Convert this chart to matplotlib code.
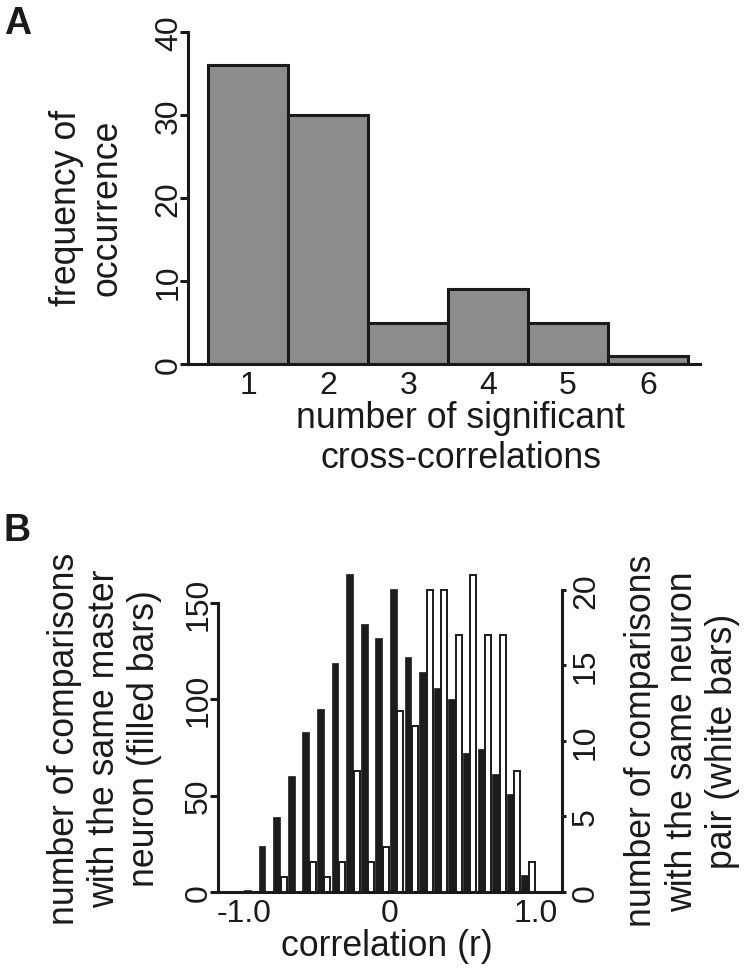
import matplotlib
matplotlib.use('Agg')
import matplotlib.pyplot as plt
from matplotlib.ticker import FixedLocator

plt.rcParams['font.family'] = ['Liberation Sans', 'DejaVu Sans']
plt.rcParams['text.color'] = '#1a1a1a'
plt.rcParams['axes.labelcolor'] = '#1a1a1a'
plt.rcParams['xtick.color'] = '#1a1a1a'
plt.rcParams['ytick.color'] = '#1a1a1a'

# ---- Panel A data ----
n_significant = [1, 2, 3, 4, 5, 6]
frequency = [36, 30, 5, 9, 5, 1]
yticks_A = [0, 10, 20, 30, 40]

# ---- Panel B data ----
bin_left = [-1.0, -0.9, -0.8, -0.7, -0.6, -0.5, -0.4, -0.3, -0.2, -0.1,
            0.0, 0.1, 0.2, 0.3, 0.4, 0.5, 0.6, 0.7, 0.8, 0.9]
filled_counts = [1, 24, 39, 60, 83, 95, 119, 165, 139, 132,
                 157, 122, 114, 106, 100, 72, 74, 61, 51, 9]
white_counts = [0, 0, 1, 0, 2, 1, 2, 8, 2, 3,
                12, 11, 20, 20, 17, 21, 17, 17, 8, 2]
xticks_B = [-1.0, 0.0, 1.0]
xticklabels_B = ['-1.0', '0', '1.0']
yticks_B_left = [0, 50, 100, 150]
yticks_B_right = [0, 5, 10, 15, 20]

TICK = 23
LAB = 25.7
DARK = '#1a1a1a'
SPW = 2.2

fig = plt.figure(figsize=(7.48, 9.70), dpi=100)

# ================= Panel A =================
axA = fig.add_axes([188/748, 1 - 365/970, 512/748, 332/970])
axA.bar(n_significant, frequency, width=1.0, color='#8c8c8c',
        edgecolor=DARK, linewidth=2.2)
axA.set_xlim(0.246, 6.65)
axA.set_ylim(0, 40)
for s in ['top', 'right']:
    axA.spines[s].set_visible(False)
for s in ['left', 'bottom']:
    axA.spines[s].set_linewidth(SPW)
    axA.spines[s].set_color(DARK)
axA.set_xticks(n_significant)
axA.set_yticks(yticks_A)
axA.tick_params(axis='x', length=0, labelsize=TICK, pad=4)
axA.tick_params(axis='y', length=5.5, width=SPW, direction='out',
                labelsize=TICK, pad=-2.5, labelrotation=90)
for lb in axA.get_yticklabels():
    lb.set_va('center')
axA.set_xlabel('number of significant\ncross-correlations', fontsize=LAB)
axA.xaxis.set_label_coords(0.533, -0.107)
axA.set_ylabel('frequency of\noccurrence', fontsize=LAB, va='center', ha='center')
axA.yaxis.set_label_coords(-0.197, 0.473)

# ================= Panel B =================
axB = fig.add_axes([218/748, 1 - 893/970, 344/748, 323/970])
axB2 = axB.twinx()
left_white = [x + 0.051 for x in bin_left]
axB.bar(bin_left, filled_counts, width=0.046, align='edge',
        color='#1c1c1c', edgecolor='#1c1c1c', linewidth=0.5)
axB2.bar(left_white, white_counts, width=0.041, align='edge',
         color='white', edgecolor=DARK, linewidth=1.4)

axB.set_xlim(-1.178, 1.178)
axB.set_ylim(0, 167.6)
axB2.set_ylim(0, 21.39)
for ax in (axB, axB2):
    ax.spines['top'].set_visible(False)
    for s in ['left', 'right', 'bottom']:
        ax.spines[s].set_linewidth(SPW)
        ax.spines[s].set_color(DARK)
axB.spines['right'].set_visible(False)
axB2.spines['left'].set_visible(False)
axB2.spines['bottom'].set_visible(False)
axB.spines['left'].set_bounds(0, 150)
axB2.spines['right'].set_bounds(0, 20)

axB.xaxis.set_major_locator(FixedLocator(xticks_B))
axB.set_xticklabels(xticklabels_B)
axB.set_yticks(yticks_B_left)
axB2.set_yticks(yticks_B_right)
axB.tick_params(axis='x', length=0, labelsize=TICK, pad=4)
axB.tick_params(axis='y', length=5.5, width=SPW, direction='out',
                labelsize=TICK, pad=-2.5, labelrotation=90)
axB2.tick_params(axis='y', length=3, width=SPW, direction='out',
                 labelsize=TICK, pad=3.5, labelrotation=90)
for lb in axB.get_yticklabels() + axB2.get_yticklabels():
    lb.set_va('center')

axB.set_xlabel('correlation (r)', fontsize=LAB)
axB.xaxis.set_label_coords(0.491, -0.112)
axB.set_ylabel('number of comparisons\nwith the same master\nneuron (filled bars)',
               fontsize=LAB, va='center', ha='center')
axB.yaxis.set_label_coords(-0.33, 0.477)
axB2.set_ylabel('number of comparisons\nwith the same neuron\npair (white bars)',
                fontsize=LAB, va='center', ha='center', rotation=90)
axB2.yaxis.set_label_coords(1.35, 0.47)

# Panel letters
fig.text(0.005, 0.994, 'A', fontsize=27, fontweight='bold', va='top', ha='left')
fig.text(0.005, 0.471, 'B', fontsize=27, fontweight='bold', va='top', ha='left')

fig.savefig('out.png', dpi=100)
